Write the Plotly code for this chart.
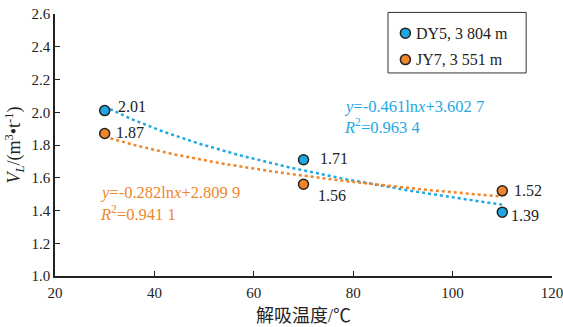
import numpy as np
import plotly.graph_objects as go

# Desorption temperature (°C) and Langmuir volume V_L (m3/t)
temps = [30, 70, 110]
dy5_vl = [2.01, 1.71, 1.39]
jy7_vl = [1.87, 1.56, 1.52]
dy5_name = "DY5, 3 804 m"
jy7_name = "JY7, 3 551 m"

# Logarithmic fit coefficients: y = a*ln(x) + b, with R²
dy5_fit = (-0.461, 3.6027)
jy7_fit = (-0.282, 2.8099)
dy5_eq = ["<i>y</i>=-0.461ln<i>x</i>+3.602 7", "<i>R</i><sup>2</sup>=0.963 4"]
jy7_eq = ["<i>y</i>=-0.282ln<i>x</i>+2.809 9", "<i>R</i><sup>2</sup>=0.941 1"]

blue = "#1fa8e3"
orange = "#f0862b"
ink = "#222222"
serif = "Liberation Serif, Times New Roman, serif"

xfit = np.linspace(temps[0], temps[-1], 100)

fig = go.Figure()

# fitted trend lines
for (a, b), col in [(dy5_fit, blue), (jy7_fit, orange)]:
    fig.add_trace(go.Scatter(x=xfit, y=a * np.log(xfit) + b, mode="lines",
                             line=dict(color=col, width=2.5, dash="dot"),
                             showlegend=False, hoverinfo="skip"))

# measured points
for vals, col, name in [(dy5_vl, blue, dy5_name), (jy7_vl, orange, jy7_name)]:
    fig.add_trace(go.Scatter(x=temps, y=vals, mode="markers", name=name, showlegend=False,
                             marker=dict(color=col, size=10, line=dict(color=ink, width=1.5))))

# value labels next to the points (pixel offsets)
dy5_offsets = [(11, 4), (14, 1), (7, -3)]
jy7_offsets = [(9, 1), (12, -11), (10, 0)]
for vals, offs in [(dy5_vl, dy5_offsets), (jy7_vl, jy7_offsets)]:
    for x, v, (dx, dy) in zip(temps, vals, offs):
        fig.add_annotation(x=x, y=v, xref="x", yref="y", text=f"{v:.2f}", showarrow=False,
                           xanchor="left", yanchor="middle", xshift=dx, yshift=dy,
                           font=dict(family=serif, size=16, color=ink))

# fit equations
for lines, col, x0, ys in [(dy5_eq, blue, 77.7, [2.038, 1.914]),
                           (jy7_eq, orange, 28.6, [1.513, 1.383])]:
    for txt, yv in zip(lines, ys):
        fig.add_annotation(x=x0, y=yv, xref="x", yref="y", text=txt, showarrow=False,
                           xanchor="left", yanchor="middle",
                           font=dict(family=serif, size=16.5, color=col))

# boxed legend
fig.add_shape(type="rect", xref="paper", yref="paper", x0=0.670, x1=0.948, y0=0.775, y1=1.006,
              line=dict(color="#333", width=1), fillcolor="white", layer="above")
for name, col, yp in [(dy5_name, blue, 0.927), (jy7_name, orange, 0.826)]:
    fig.add_shape(type="circle", xref="paper", yref="paper", xsizemode="pixel",
                  ysizemode="pixel", xanchor=0.705, yanchor=yp, x0=-5, x1=5, y0=-5, y1=5,
                  fillcolor=col, line=dict(color=ink, width=1.5), layer="above")
    fig.add_annotation(x=0.723, y=yp, xref="paper", yref="paper", text=name, showarrow=False,
                       xanchor="left", yanchor="middle",
                       font=dict(family=serif, size=16, color=ink))

axis_common = dict(showline=True, linecolor=ink, linewidth=1.5, ticks="inside",
                   ticklen=5, tickcolor=ink, tickwidth=1, showgrid=False, zeroline=False,
                   automargin=False, ticklabeloverflow="allow",
                   tickfont=dict(family=serif, size=15, color=ink))

fig.update_xaxes(range=[20, 120], dtick=20, ticklabelstandoff=2, **axis_common,
                 title=dict(text="解吸温度/℃", standoff=10,
                            font=dict(family="Liberation Serif, Noto Sans CJK SC", size=18,
                                      color=ink)))
fig.update_yaxes(range=[1.0, 2.6], dtick=0.2, tickformat=".1f", **axis_common,
                 title=dict(text="<i>V</i><sub><i>L</i></sub>/(m<sup>3</sup>•t<sup>-1</sup>)",
                            standoff=6, font=dict(family=serif, size=18, color=ink)))

fig.update_layout(
    width=563, height=327,
    margin=dict(l=55, r=11, t=14, b=51),
    plot_bgcolor="white", paper_bgcolor="white",
    showlegend=False,
)

fig.write_html("out.html")
